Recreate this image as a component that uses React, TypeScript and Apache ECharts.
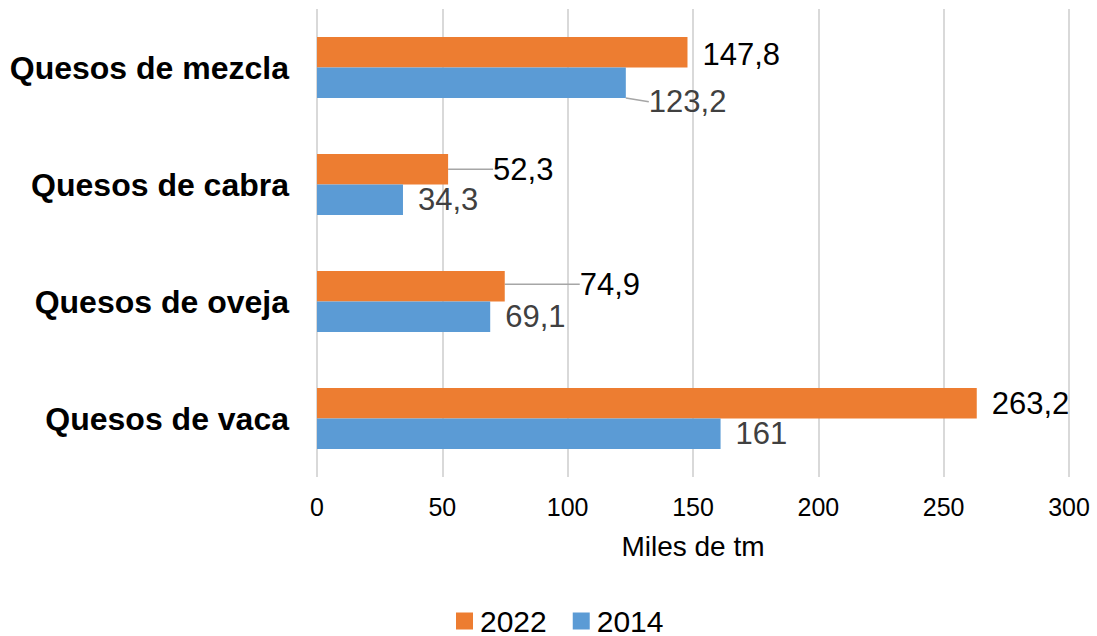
import React, { useEffect, useRef } from "react";
import * as echarts from "echarts";

const categories = ["Quesos de vaca", "Quesos de oveja", "Quesos de cabra", "Quesos de mezcla"];
const values2022 = [263.2, 74.9, 52.3, 147.8];
const values2014 = [161, 69.1, 34.3, 123.2];
const xTicks = { min: 0, max: 300, interval: 50 };

// label nudges (pixels) applied through labelLayout, by category index; line = leader line shown
const offsets2022 = [
  { dx: 0, dy: 0, line: false },
  { dx: 52, dy: -2, line: true },
  { dx: 22, dy: 0, line: true },
  { dx: 0, dy: 2, line: false },
];
const offsets2014 = [
  { dx: 0, dy: 0, line: false },
  { dx: 0, dy: 0, line: false },
  { dx: 0, dy: 0, line: false },
  { dx: 0, dy: 19, line: true },
];

const FONT = "'Liberation Sans', Arial, Helvetica, sans-serif";
const fmt = (v: number) => String(v).replace(".", ",");

function buildData(values: number[], offs: { dx: number; dy: number; line: boolean }[]) {
  return values.map((v, i) => ({
    value: v,
    labelLine: { show: offs[i].line },
    label: offs[i].line ? { padding: [0, 0, 0, 8] } : {},
  }));
}

export default function App() {
  const ref = useRef<HTMLDivElement>(null);
  useEffect(() => {
    if (!ref.current) return;
    const chart = echarts.init(ref.current, undefined, { renderer: "svg" });
    const labelLineStyle = { color: "#a6a6a6", width: 1.5 };
    chart.setOption({
      animation: false,
      backgroundColor: "#ffffff",
      grid: { left: 317, right: 28, top: 9, height: 468, containLabel: false },
      legend: {
        data: ["2022", "2014"],
        left: 456,
        top: 606,
        padding: 0,
        icon: "rect",
        itemWidth: 17,
        itemHeight: 17,
        itemGap: 26,
        textStyle: { fontSize: 30, lineHeight: 30, color: "#000", fontFamily: FONT, padding: [0, 0, 0, 2] },
      },
      xAxis: {
        type: "value",
        min: xTicks.min,
        max: xTicks.max,
        interval: xTicks.interval,
        name: "Miles de tm",
        nameLocation: "middle",
        nameGap: 55,
        nameTextStyle: { fontSize: 28, color: "#000", fontFamily: FONT },
        axisLine: { show: false },
        axisTick: { show: false },
        axisLabel: { fontSize: 25, color: "#000", margin: 17, fontFamily: FONT },
        splitLine: { show: true, lineStyle: { color: "#d9d9d9", width: 2 } },
      },
      yAxis: {
        type: "category",
        data: categories,
        axisLine: { show: false },
        axisTick: { show: false },
        axisLabel: {
          fontSize: 32,
          fontWeight: "bold",
          color: "#000",
          margin: 28,
          fontFamily: FONT,
        },
      },
      series: [
        {
          name: "2022",
          type: "bar",
          data: buildData(values2022, offsets2022),
          itemStyle: { color: "#ed7d31" },
          barGap: "0%",
          barCategoryGap: "48%",
          label: {
            show: true,
            position: "right",
            distance: 15,
            fontSize: 31,
            color: "#000",
            fontFamily: FONT,
            formatter: (p: any) => fmt(p.value),
          },
          labelLine: { show: false, lineStyle: labelLineStyle },
          labelLayout: (p: any) => ({ dx: offsets2022[p.dataIndex].dx, dy: offsets2022[p.dataIndex].dy }),
        },
        {
          name: "2014",
          type: "bar",
          data: buildData(values2014, offsets2014),
          itemStyle: { color: "#5b9bd5" },
          barGap: "0%",
          barCategoryGap: "48%",
          label: {
            show: true,
            position: "right",
            distance: 15,
            fontSize: 31,
            color: "#404040",
            fontFamily: FONT,
            formatter: (p: any) => fmt(p.value),
          },
          labelLine: { show: false, lineStyle: labelLineStyle },
          labelLayout: (p: any) => ({ dx: offsets2014[p.dataIndex].dx, dy: offsets2014[p.dataIndex].dy }),
        },
      ],
    });
    return () => chart.dispose();
  }, []);
  return (
    <div
      ref={ref}
      style={{ position: "fixed", left: 0, top: 0, width: 1097, height: 636, background: "#fff" }}
    />
  );
}
